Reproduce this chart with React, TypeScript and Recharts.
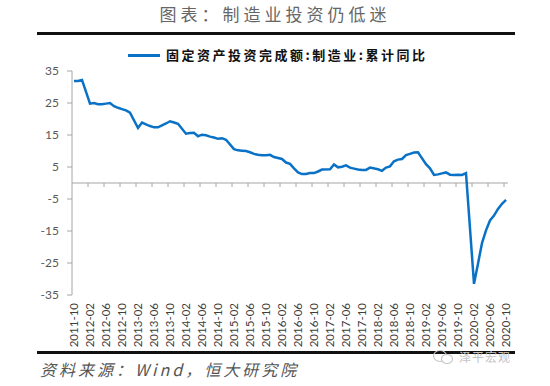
import React from "react";
import { LineChart, Line, XAxis, YAxis, ReferenceLine } from "recharts";

// 固定资产投资完成额:制造业:累计同比 (%), 1月无数据
const values2011 = [31.9, 31.9, 32.2]; // 10-12月
const values2012 = [null, 24.8, 25.0, 24.6, 24.6, 24.8, 25.0, 24.0, 23.5, 23.1, 22.7, 22.0];
const values2013 = [null, 17.2, 18.9, 18.3, 17.8, 17.4, 17.4, 18.0, 18.6, 19.3, 18.9, 18.5];
const values2014 = [null, 15.4, 15.6, 15.7, 14.6, 15.1, 14.9, 14.5, 14.2, 13.8, 14.0, 13.5];
const values2015 = [null, 10.6, 10.2, 10.1, 10.0, 9.6, 9.1, 8.8, 8.7, 8.7, 8.8, 8.1];
const values2016 = [null, 7.5, 6.4, 6.0, 4.6, 3.3, 2.8, 2.8, 3.1, 3.1, 3.6, 4.2];
const values2017 = [null, 4.3, 5.8, 4.9, 5.1, 5.5, 4.8, 4.5, 4.2, 4.1, 4.1, 4.8];
const values2018 = [null, 4.3, 3.8, 4.8, 5.2, 6.8, 7.3, 7.5, 8.7, 9.1, 9.5, 9.6];
const values2019 = [null, 5.9, 4.6, 2.5, 2.7, 3.0, 3.3, 2.6, 2.5, 2.6, 2.5, 3.1];
const values2020 = [null, -31.5, -25.2, -18.8, -14.8, -11.7, -10.2, -8.1, -6.5, -5.3]; // 1-10月

const years: [number, number, (number | null)[]][] = [
  [2011, 10, values2011],
  [2012, 1, values2012],
  [2013, 1, values2013],
  [2014, 1, values2014],
  [2015, 1, values2015],
  [2016, 1, values2016],
  [2017, 1, values2017],
  [2018, 1, values2018],
  [2019, 1, values2019],
  [2020, 1, values2020],
];

const yTicks = [35, 25, 15, 5, -5, -15, -25, -35];
const seriesName = "固定资产投资完成额:制造业:累计同比";

const data = years.flatMap(([year, firstMonth, vals]) =>
  vals.map((v, i) => ({
    month: `${year}-${String(firstMonth + i).padStart(2, "0")}`,
    value: v,
  }))
);

const LINE_COLOR = "#0a72c6";
const AXIS_COLOR = "#a6a6a6";
const numFont = "Lato, 'Liberation Sans', sans-serif";
const cjkFont = "'Noto Sans CJK SC', sans-serif";

const MonthTick = (props: any) => {
  const { x, y, payload } = props;
  return (
    <text
      x={x}
      y={y}
      dy="0.35em"
      transform={`rotate(-90 ${x} ${y})`}
      textAnchor="end"
      fontSize={11.5}
      fontFamily={numFont}
      fill="#404040"
    >
      {payload.value}
    </text>
  );
};

// x axis drawn on the zero line, with tick marks every 4 months
const ZeroAxis = (props: any) => {
  const { x1, x2, y1 } = props;
  const bw = (x2 - x1) / data.length;
  const marks = [];
  for (let k = 4; k < data.length; k += 4) {
    const x = x1 + k * bw;
    marks.push(<line key={k} x1={x} x2={x} y1={y1} y2={y1 + 4} stroke={AXIS_COLOR} />);
  }
  return (
    <g>
      <line x1={x1} x2={x2} y1={y1} y2={y1} stroke={AXIS_COLOR} strokeWidth={1.2} />
      {marks}
    </g>
  );
};

export default function App() {
  return (
    <div
      style={{
        position: "absolute",
        left: 0,
        top: 0,
        width: 550,
        height: 386,
        background: "#fff",
        overflow: "hidden",
      }}
    >
      <div
        style={{
          position: "absolute",
          top: 3,
          left: 0,
          width: 550,
          textAlign: "center",
          fontFamily: cjkFont,
          fontSize: 17,
          letterSpacing: 4,
          color: "#666",
          lineHeight: "22px",
        }}
      >
        图表：制造业投资仍低迷
      </div>
      <div style={{ position: "absolute", top: 32, left: 37, width: 478, height: 3, background: "#111" }} />

      <div style={{ position: "absolute", top: 54, left: 128, width: 32, height: 2.5, background: LINE_COLOR }} />
      <div
        style={{
          position: "absolute",
          top: 46,
          left: 166,
          fontFamily: cjkFont,
          fontSize: 13,
          fontWeight: 700,
          letterSpacing: 2.5,
          color: "#111",
          lineHeight: "18px",
          whiteSpace: "nowrap",
        }}
      >
        {seriesName}
      </div>

      <div style={{ position: "absolute", top: 0, left: 0 }}>
        <LineChart
          width={550}
          height={386}
          data={data}
          margin={{ top: 71, right: 42, bottom: 0, left: 0 }}
        >
          <XAxis
            dataKey="month"
            scale="band"
            interval={3}
            axisLine={false}
            tickLine={false}
            height={91}
            tick={<MonthTick />}
          />
          <YAxis
            width={72}
            domain={[-35, 35]}
            ticks={yTicks}
            interval={0}
            stroke={AXIS_COLOR}
            tickSize={5}
            tickMargin={8}
            tick={{ fontSize: 12, fill: "#595959", fontFamily: numFont }}
          />
          <ReferenceLine y={0} stroke={AXIS_COLOR} shape={ZeroAxis} />
          <Line
            type="linear"
            dataKey="value"
            name={seriesName}
            stroke={LINE_COLOR}
            strokeWidth={2.5}
            dot={false}
            connectNulls
            isAnimationActive={false}
          />
        </LineChart>
      </div>

      <div style={{ position: "absolute", top: 351, left: 37, width: 478, height: 3, background: "#111" }} />
      <div
        style={{
          position: "absolute",
          top: 357,
          left: 40,
          fontFamily: cjkFont,
          fontSize: 16,
          fontStyle: "italic",
          letterSpacing: 3,
          color: "#555",
          lineHeight: "24px",
          whiteSpace: "nowrap",
        }}
      >
        资料来源：Wind，恒大研究院
      </div>
      <svg style={{ position: "absolute", left: 432, top: 349 }} width={24} height={16}>
        <ellipse cx={8} cy={7} rx={6.5} ry={5.5} fill="none" stroke="#c8c8c8" strokeWidth={1.2} />
        <ellipse cx={15} cy={10} rx={5.5} ry={4.5} fill="#fff" stroke="#c8c8c8" strokeWidth={1.2} />
      </svg>
      <div
        style={{
          position: "absolute",
          top: 349,
          left: 459,
          fontFamily: cjkFont,
          fontSize: 12,
          color: "#c4c4c4",
          letterSpacing: 1,
          lineHeight: "16px",
        }}
      >
        泽平宏观
      </div>
    </div>
  );
}
